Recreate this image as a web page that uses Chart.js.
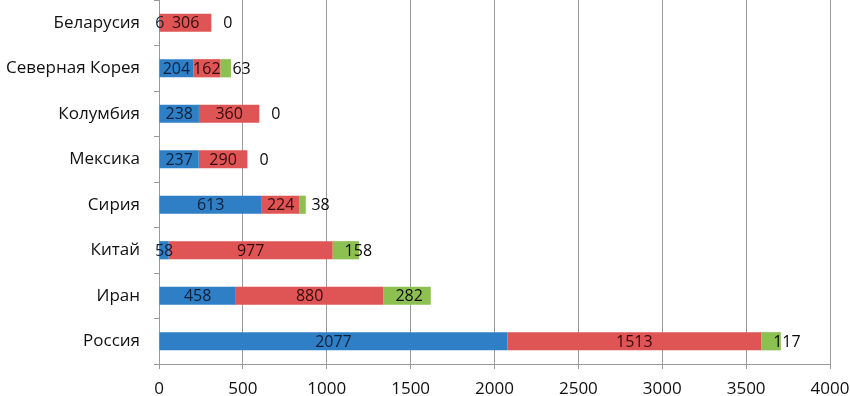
<!DOCTYPE html>
<html>
<head>
<meta charset="utf-8">
<script src="https://cdn.jsdelivr.net/npm/chart.js@4"></script>
<style>
  html, body { margin: 0; padding: 0; background: #fff; }
  #wrap { width: 850px; height: 396px; position: relative; }
</style>
</head>
<body>
<div id="wrap"><canvas id="chart"></canvas></div>
<script>
// data
const countries = ['Беларусия', 'Северная Корея', 'Колумбия', 'Мексика', 'Сирия', 'Китай', 'Иран', 'Россия'];
const blueValues = [6, 204, 238, 237, 613, 58, 458, 2077];
const redValues = [306, 162, 360, 290, 224, 977, 880, 1513];
const greenValues = [0, 63, 0, 0, 38, 158, 282, 117];
const xTicks = [0, 500, 1000, 1500, 2000, 2500, 3000, 3500, 4000];

const FONT = '"Open Sans", sans-serif';
const labelColors = ['#0e1f38', '#350c0c', '#0a0a0a'];

// value labels: blue/red centred, green left-aligned a bit past its base
const valueLabels = {
    id: 'valueLabels',
    afterDatasetsDraw(chart) {
        const ctx = chart.ctx;
        ctx.save();
        ctx.font = '16px ' + FONT;
        ctx.textBaseline = 'middle';
        chart.data.datasets.forEach((ds, i) => {
            const meta = chart.getDatasetMeta(i);
            meta.data.forEach((bar, j) => {
                const v = ds.data[j];
                ctx.fillStyle = labelColors[i];
                if (i < 2) {
                    ctx.textAlign = 'center';
                    ctx.fillText(String(v), (bar.x + bar.base) / 2, bar.y + 1);
                } else {
                    ctx.textAlign = 'left';
                    ctx.fillText(String(v), Math.min(bar.x, bar.base) + 12, bar.y + 1);
                }
            });
        });
        ctx.restore();
    }
};

new Chart(document.getElementById('chart'), {
    type: 'bar',
    data: {
        labels: countries,
        datasets: [
            { data: blueValues, backgroundColor: '#2f7fc6' },
            { data: redValues, backgroundColor: '#df5454' },
            { data: greenValues, backgroundColor: '#8cc152' }
        ]
    },
    options: {
        indexAxis: 'y',
        responsive: true,
        maintainAspectRatio: false,
        animation: false,
        layout: { padding: { top: 0, right: 20, bottom: 0, left: 0 } },
        datasets: { bar: { barPercentage: 0.4, categoryPercentage: 1 } },
        plugins: { legend: { display: false }, tooltip: { enabled: false } },
        scales: {
            x: {
                stacked: true,
                min: 0,
                max: 4000,
                afterBuildTicks: (scale) => { scale.ticks = xTicks.map(v => ({ value: v })); },
                afterFit: (scale) => {
                    scale.height = 32;
                    scale.paddingLeft = 0;
                    scale.paddingRight = 0;
                },
                ticks: {
                    color: '#111',
                    font: { family: FONT, size: 17 },
                    padding: 10,
                    maxRotation: 0,
                    callback: (v) => String(v)
                },
                grid: { color: '#9a9a9a', tickLength: 5, tickColor: '#9a9a9a' },
                border: { color: '#9a9a9a' }
            },
            y: {
                stacked: true,
                afterFit: (scale) => {
                    scale.width = 159;
                    scale.paddingTop = 0;
                    scale.paddingBottom = 0;
                },
                ticks: { color: '#111', font: { family: FONT, size: 17 }, padding: 14 },
                grid: { drawOnChartArea: false, tickLength: 5, tickColor: '#9a9a9a' },
                border: { color: '#9a9a9a' }
            }
        }
    },
    plugins: [valueLabels]
});
</script>
</body>
</html>
